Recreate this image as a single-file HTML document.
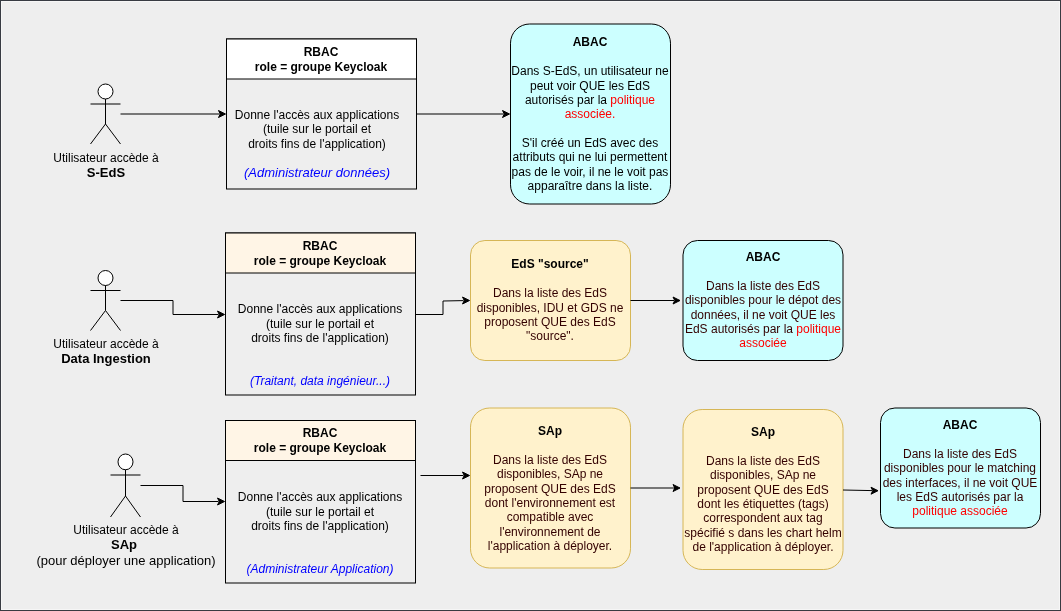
<!DOCTYPE html>
<html lang="fr">
<head>
<meta charset="utf-8">
<title>RBAC / ABAC</title>
<style>
html,body{margin:0;padding:0;}
body{width:1061px;height:611px;overflow:hidden;background:#383b42;position:relative;font-family:"Liberation Sans",Helvetica,Arial,sans-serif;font-size:12px;line-height:14.4px;color:#000;}
#frame{position:absolute;left:1px;top:1px;width:1057px;height:607px;border:1px solid #f6f6f6;background:#eeeeee;}
svg{position:absolute;left:0;top:0;}
.t{will-change:transform;position:absolute;text-align:center;white-space:nowrap;transform:translateX(-50%);}
.p{padding-top:.4px;}
.b{font-weight:bold;}
.red{color:#ff0000;}
.blue{color:#0000ff;font-style:italic;}
.brown{color:#330000;}
</style>
</head>
<body>
<div id="frame"></div>
<svg width="1061" height="611" viewBox="0 0 1061 611" fill="none" stroke="#000" stroke-width="1" stroke-miterlimit="10">
<ellipse cx="105.5" cy="91.5" rx="7.5" ry="7.5" fill="#fff"/><path d="M105.5 99.0V124.0M105.5 124.0L90.5 144M105.5 124.0L120.5 144M90.5 104.0H120.5"/>
<path d="M120.5 114H219.5"/><path d="M225.5 114l-7 -3.5 1.75 3.5 -1.75 3.5z" fill="#000" stroke="#000" stroke-miterlimit="10"/>
<rect x="226.5" y="39" width="190" height="150" fill="#eeeeee"/>
<rect x="226.5" y="39" width="190" height="40" fill="#ffffff"/>
<path d="M416.5 114H503.5"/><path d="M509.5 114l-7 -3.5 1.75 3.5 -1.75 3.5z" fill="#000" stroke="#000" stroke-miterlimit="10"/>
<rect x="510.5" y="24" width="160" height="180" rx="19.2" ry="19.2" fill="#ccffff"/>
<ellipse cx="105.5" cy="278.0" rx="7.5" ry="7.5" fill="#fff"/><path d="M105.5 285.5V310.5M105.5 310.5L90.5 330.5M105.5 310.5L120.5 330.5M90.5 290.5H120.5"/>
<path d="M120.5 300.5H173V314.5H218.5"/><path d="M224.5 314.5l-7 -3.5 1.75 3.5 -1.75 3.5z" fill="#000" stroke="#000" stroke-miterlimit="10"/>
<rect x="225.5" y="233" width="190" height="162" fill="#eeeeee"/>
<rect x="225.5" y="233" width="190" height="40" fill="#fff5e6"/>
<path d="M415.5 314.5H443V301L463.5 300.6"/><path d="M469.5 300.5l-7 -3.5 1.75 3.5 -1.75 3.5z" fill="#000" stroke="#000" stroke-miterlimit="10"/>
<rect x="470.5" y="240.5" width="160" height="120" rx="14.4" ry="14.4" fill="#fff2cc" stroke="#d6b656"/>
<path d="M630.5 300.5H674"/><path d="M680 300.5l-7 -3.5 1.75 3.5 -1.75 3.5z" fill="#000" stroke="#000" stroke-miterlimit="10"/>
<rect x="683" y="240.5" width="160" height="120" rx="14.4" ry="14.4" fill="#ccffff"/>
<ellipse cx="125.5" cy="461.875" rx="7.5" ry="7.875" fill="#fff"/><path d="M125.5 469.75V496.0M125.5 496.0L110.5 517M125.5 496.0L140.5 517M110.5 475.0H140.5"/>
<path d="M140.500 485.500H183V501.500H218.500"/><path d="M224.5 501.5l-7 -3.5 1.75 3.5 -1.75 3.5z" fill="#000" stroke="#000" stroke-miterlimit="10"/>
<rect x="225.500" y="420.500" width="190" height="162.500" fill="#eeeeee"/>
<rect x="225.500" y="420.500" width="190" height="40" fill="#fff5e6"/>
<path d="M420.500 475.500H463.500"/><path d="M469.5 475.5l-7 -3.5 1.75 3.5 -1.75 3.5z" fill="#000" stroke="#000" stroke-miterlimit="10"/>
<rect x="470.500" y="408" width="160" height="160" rx="19.2" ry="19.2" fill="#fff2cc" stroke="#d6b656"/>
<path d="M630.500 488H674"/><path d="M680 488l-7 -3.5 1.75 3.5 -1.75 3.5z" fill="#000" stroke="#000" stroke-miterlimit="10"/>
<rect x="683" y="409.500" width="160" height="160" rx="19.2" ry="19.2" fill="#fff2cc" stroke="#d6b656"/>
<path d="M843 490L872 490.6"/><path d="M878 490.7l-7 -3.5 1.75 3.5 -1.75 3.5z" fill="#000" stroke="#000" stroke-miterlimit="10"/>
<rect x="880.500" y="408" width="160" height="120" rx="14.4" ry="14.4" fill="#ccffff"/>
</svg>
<!-- row 1 text -->
<div class="t" style="left:106px;top:151px;line-height:1.2;">Utilisateur accède à<br><b style="font-size:13px">S-EdS</b></div>
<div class="t b" style="left:321px;top:44.5px;line-height:15.4px;">RBAC<br>role = groupe Keycloak</div>
<div class="t" style="left:316.75px;top:108px;">Donne l'accès aux applications<br>(tuile sur le portail et<br>droits fins de l'application)</div>
<div class="t blue" style="left:316.75px;top:166px;font-size:13px;">(Administrateur données)</div>
<div class="t" style="left:590px;top:35px;"><b>ABAC</b><br><br>Dans S-EdS, un utilisateur ne<br><span style="position:relative;top:1px">peut voir QUE les EdS</span><br>autorisés par la <span class="red">politique</span><br><span class="red">associée.</span><br><br>S'il créé un EdS avec des<br>attributs qui ne lui permettent<br>pas de le voir, il ne le voit pas<br>apparaître dans la liste.</div>

<!-- row 2 text -->
<div class="t" style="left:106px;top:337px;line-height:1.2;">Utilisateur accède à<br><b style="font-size:13px">Data Ingestion</b></div>
<div class="t b" style="left:320px;top:238.5px;line-height:15.4px;">RBAC<br>role = groupe Keycloak</div>
<div class="t p" style="left:320.25px;top:302px;">Donne l'accès aux applications<br>(tuile sur le portail et<br>droits fins de l'application)</div>
<div class="t blue" style="left:320.25px;top:374px;">(Traitant, data ingénieur...)</div>
<div class="t p brown" style="left:550px;top:257px;"><b style="color:#000">EdS "source"</b><br><br>Dans la liste des EdS<br>disponibles, IDU et GDS ne<br>proposent QUE des EdS<br>"source".</div>
<div class="t brown" style="left:763px;top:250px;"><b style="color:#000">ABAC</b><br><br>Dans la liste des EdS<br>disponibles pour le dépot des<br>données, il ne voit QUE les<br>EdS autorisés par la <span class="red">politique</span><br><span class="red">associée</span></div>

<!-- row 3 text -->
<div class="t" style="left:126px;top:523px;line-height:1.2;">Utilisateur accède à<br><b style="font-size:13px;padding-right:4px">SAp</b><br><span style="font-size:13px">(pour déployer une application)</span></div>
<div class="t b" style="left:320px;top:425.5px;line-height:15.4px;">RBAC<br>role = groupe Keycloak</div>
<div class="t p" style="left:320.25px;top:490px;">Donne l'accès aux applications<br>(tuile sur le portail et<br>droits fins de l'application)</div>
<div class="t blue" style="left:320.25px;top:562px;">(Administrateur Application)</div>
<div class="t brown" style="left:550px;top:424px;"><b style="color:#000">SAp</b><br><br>Dans la liste des EdS<br>disponibles, SAp ne<br>proposent QUE des EdS<br>dont l'environnement est<br>compatible avec<br>l'environnement de<br>l'application à déployer.</div>
<div class="t brown" style="left:763px;top:425px;"><b style="color:#000">SAp</b><br><br>Dans la liste des EdS<br>disponibles, SAp ne<br>proposent QUE des EdS<br>dont les étiquettes (tags)<br>correspondent aux tag<br>spécifié s dans les chart helm<br>de l'application à déployer.</div>
<div class="t brown" style="left:960px;top:418px;"><b style="color:#000">ABAC</b><br><br>Dans la liste des EdS<br>disponibles pour le matching<br>des interfaces, il ne voit QUE<br>les EdS autorisés par la<br><span class="red">politique associée</span></div>

</body>
</html>
